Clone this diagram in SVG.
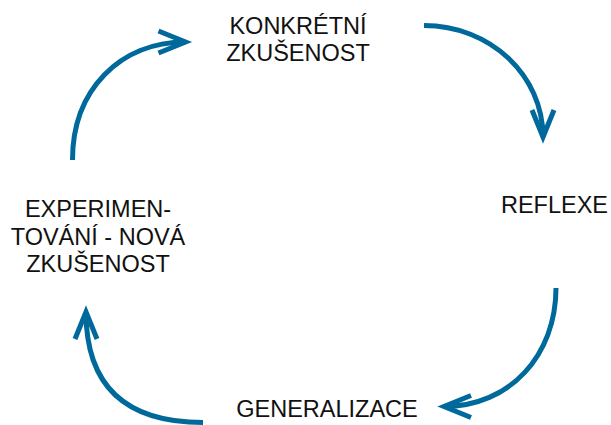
<svg xmlns="http://www.w3.org/2000/svg" width="611" height="425" viewBox="0 0 611 425">
<style>
.lbl{font-family:"Liberation Sans",Arial,sans-serif;font-size:23.5px;fill:#111;text-anchor:middle}
.arc{fill:none;stroke:#00699B;stroke-width:5;stroke-linecap:butt}
</style>
<defs>
<marker id="ah" markerUnits="userSpaceOnUse" markerWidth="50" markerHeight="50" viewBox="-35 -20 50 40" refX="0" refY="0" orient="auto" overflow="visible">
<path d="M-27,-11 L0,0 L-27,11" fill="none" stroke="#00699B" stroke-width="5" stroke-miterlimit="10"/>
</marker>
</defs>
<rect width="611" height="425" fill="#fff"/>
<g id="connectors">
<path class="arc" d="M424,25.5 C490,25.5 543,75 543,137" marker-end="url(#ah)"/>
<path class="arc" d="M556,288 C556,355 510,406.5 444,406.5" marker-end="url(#ah)"/>
<path class="arc" d="M203,422.5 C130,422.5 86,390 86,312" marker-end="url(#ah)"/>
<path class="arc" d="M72.5,160 C72.5,90 120,42 185.5,42" marker-end="url(#ah)"/>
</g>
<g id="konkretni"><text class="lbl" x="298" y="34">KONKRÉTNÍ</text><text class="lbl" x="298" y="61">ZKUŠENOST</text></g>
<g id="reflexe"><text class="lbl" x="554.5" y="213">REFLEXE</text></g>
<g id="generalizace"><text class="lbl" x="327" y="417">GENERALIZACE</text></g>
<g id="experimentovani"><text class="lbl" x="98" y="217">EXPERIMEN-</text><text class="lbl" x="98" y="244.5">TOVÁNÍ - NOVÁ</text><text class="lbl" x="98" y="272">ZKUŠENOST</text></g>
</svg>
